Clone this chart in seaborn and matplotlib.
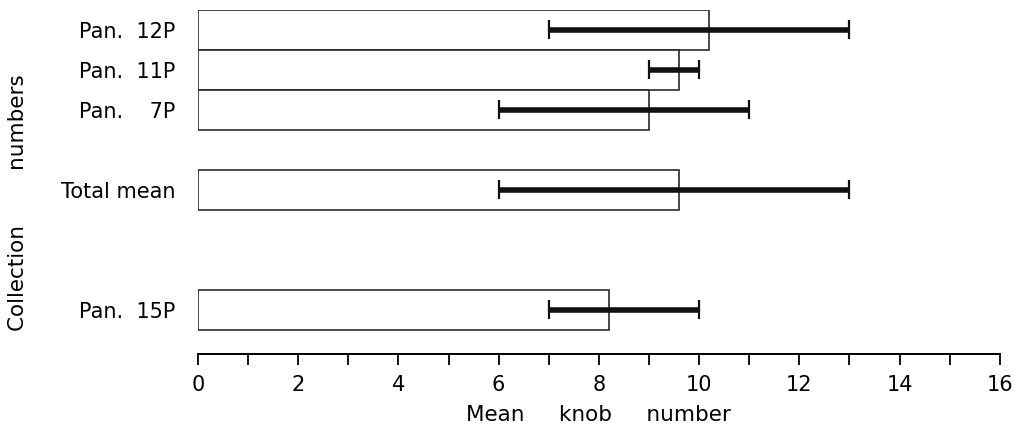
import numpy as np
import seaborn as sns
import matplotlib.pyplot as plt

# values
collections = ['Pan.  12P', 'Pan.  11P', 'Pan.    7P', 'Total mean', 'Pan.  15P']
positions = [0, 1, 2, 4, 7]
mean_knobs = [10.2, 9.6, 9.0, 9.6, 8.2]
range_low = [7, 9, 6, 6, 7]
range_high = [13, 10, 11, 13, 10]

sns.set_style('ticks')
plt.rcParams['font.family'] = ['DejaVu Sans']
plt.rcParams['text.color'] = 'black'
plt.rcParams['axes.labelcolor'] = 'black'
plt.rcParams['xtick.color'] = 'black'
plt.rcParams['ytick.color'] = 'black'

fig = plt.figure(figsize=(10.15, 4.3), dpi=100)
ax = fig.add_axes([0.195, 0.177, 0.79, 0.8])

sns.barplot(x=mean_knobs, y=positions, orient='h', native_scale=True, width=1.0,
            color='white', edgecolor='#2a2a2a', linewidth=1.2, ax=ax)

# range bars with end caps
pos = np.array(positions, dtype=float)
ax.hlines(pos, range_low, range_high, color='#111111', lw=4, zorder=3)
ax.vlines(range_low, pos - 0.24, pos + 0.24, color='#111111', lw=1.6, zorder=3)
ax.vlines(range_high, pos - 0.24, pos + 0.24, color='#111111', lw=1.6, zorder=3)

ax.set_xlim(0, 16)
ax.set_ylim(8.1, -0.5)
ax.set_xticks(range(0, 17, 2))
ax.set_xticks(range(1, 17, 2), minor=True)
ax.tick_params(axis='x', which='both', direction='out', length=8, width=1.3,
               labelsize=15, pad=7)
ax.set_yticks(positions)
ax.set_yticklabels(collections, fontsize=15)
ax.tick_params(axis='y', length=0, pad=16)

sns.despine(ax=ax, left=True, top=True, right=True)
ax.spines['bottom'].set_linewidth(1.4)
ax.spines['bottom'].set_color('black')

ax.set_xlabel('Mean     knob     number', fontsize=15.5)
ax.xaxis.set_label_coords(0.5, -0.15)
ax.set_ylabel('Collection        numbers', fontsize=15.5)
ax.yaxis.set_label_coords(-0.212, 0.44)

fig.savefig('out.png', dpi=100)
